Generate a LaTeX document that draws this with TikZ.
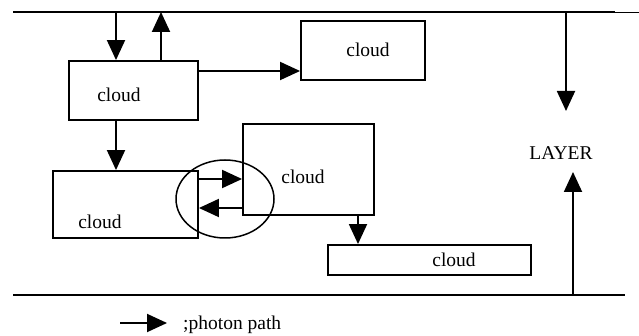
\documentclass[tikz,border=0pt]{standalone}
\usepackage{fontspec}
\setmainfont{Liberation Serif}
\usetikzlibrary{arrows.meta,shapes.geometric}
\tikzset{
  box/.style={draw, line width=1.9pt, minimum width=#1, inner sep=0pt},
  lbl/.style={inner sep=0pt, font=\fontsize{19.5}{22}\selectfont},
  arr/.style={line width=1.9pt, -{Triangle[length=20pt,width=18pt]}},
  rule/.style={line width=1.9pt},
}
\begin{document}
\begin{tikzpicture}[x=1pt,y=-1pt]
\useasboundingbox (0,0) rectangle (639,336);

% horizontal layer boundaries
\coordinate (topL) at (13,12);
\coordinate (topR) at (615,12);
\coordinate (topE) at (639,12);
\coordinate (botL) at (13,295);
\coordinate (botR) at (625,295);
\draw[rule] (topL) -- (topR);
\draw[line width=0.9pt] (topR) -- (topE);
\draw[rule] (botL) -- (botR);

% boxes
\node[box=129pt, minimum height=59pt] (A) at (133.5,90.5) {};
\node[box=124pt, minimum height=59pt] (B) at (363,50.5) {};
\node[box=145pt, minimum height=67pt] (C) at (125.5,204.5) {};
\node[box=131pt, minimum height=91pt] (D) at (308.5,169.5) {};
\node[box=203pt, minimum height=30pt] (E) at (429.5,260) {};
\node[draw, ellipse, line width=1.5pt, minimum width=98pt, minimum height=78pt, inner sep=0pt] (ring) at (225,199) {};

% labels
\node[lbl] (lA) at (119,95) {cloud};
\node[lbl] (lB) at (368,50) {cloud};
\node[lbl] (lC) at (100,222) {cloud};
\node[lbl] (lD) at (303,177) {cloud};
\node[lbl] (lE) at (454,260) {cloud};
\node[lbl] (layer) at (561,153) {LAYER};

% photon paths
\coordinate (t1) at (116,12);
\coordinate (t2) at (161,12);
\coordinate (ab) at (0,71);
\coordinate (c1) at (0,179);
\coordinate (c2) at (0,208);
\coordinate (de) at (358,0);
\draw[arr] (t1) -- (t1 |- A.north);
\draw[arr] (t2 |- A.north) -- (t2);
\draw[arr] (A.east |- ab) -- (B.west |- ab);
\draw[arr] (t1 |- A.south) -- (t1 |- C.north);
\draw[arr] (C.east |- c1) -- (D.west |- c1);
\draw[arr] (D.west |- c2) -- (C.east |- c2);
\draw[arr] (de |- D.south) -- (de |- E.north);

% layer arrows
\coordinate (t3) at (566,12);
\coordinate (l3) at (566,111);
\coordinate (b3) at (573,295);
\coordinate (l4) at (573,172);
\draw[arr] (t3) -- (l3);
\draw[arr] (b3) -- (l4);

% legend
\coordinate (g1) at (120,323);
\coordinate (g2) at (167,323);
\draw[arr] (g1) -- (g2);
\node[lbl, anchor=west] (leg) at (183,325) {;photon path};
\end{tikzpicture}
\end{document}
